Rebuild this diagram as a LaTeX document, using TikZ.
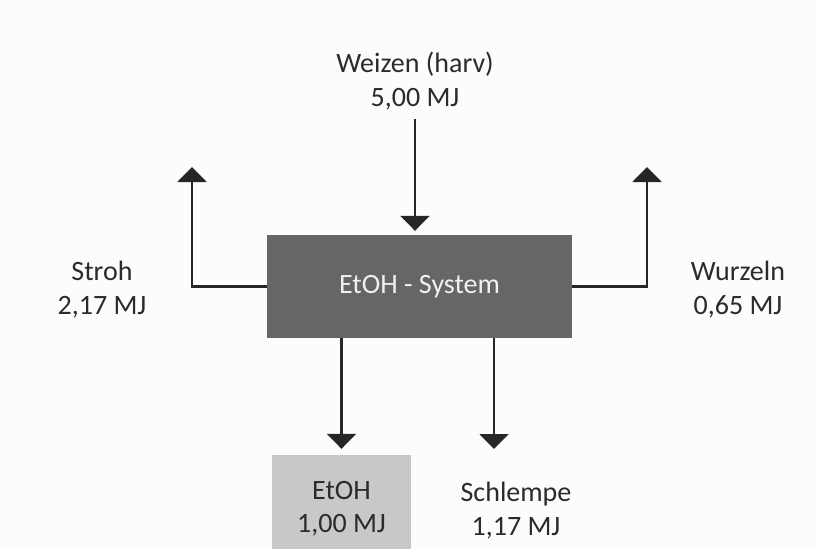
\documentclass[tikz,border=0pt]{standalone}
\usepackage{fontspec}
\setmainfont{Carlito}
\usetikzlibrary{arrows.meta}

\definecolor{bggray}{HTML}{FCFCFB}
\definecolor{sysgray}{HTML}{666666}
\definecolor{outgray}{HTML}{C8C8C8}
\definecolor{linegray}{HTML}{262626}
\definecolor{txtgray}{HTML}{2B2B2B}

\begin{document}
\begin{tikzpicture}[x=1pt, y=-1pt,
    flow/.style={draw=linegray, line width=2.2pt, -{Triangle[width=29pt,length=15pt]}},
    flowlabel/.style={align=center, text=txtgray, inner sep=0pt,
        font=\fontsize{28}{33.5}\selectfont},
    sysbox/.style={fill=sysgray, text=white!94!black, minimum width=305pt,
        minimum height=103pt, inner sep=0pt, font=\fontsize{28}{33.5}\selectfont},
    outbox/.style={fill=outgray, text=txtgray, align=center, minimum width=139pt,
        minimum height=107pt, inner sep=0pt, font=\fontsize{28}{33.5}\selectfont},
]
    % Canvas
    \clip (0,0) rectangle (817,549);
    \fill[bggray] (0,0) rectangle (817,549);

    % Boxes
    \node[sysbox] (sys) at (419.5,286.5) {EtOH - System};
    \node[outbox] (etoh) at (341.5,508.5) {EtOH\\1,00 MJ};

    % Labels
    \node[flowlabel] (weizen)   at (415,81)    {Weizen (harv)\\5,00 MJ};
    \node[flowlabel] (stroh)    at (102,289.5) {Stroh\\2,17 MJ};
    \node[flowlabel] (wurzeln)  at (738,289.5) {Wurzeln\\0,65 MJ};
    \node[flowlabel] (schlempe) at (516,510.5) {Schlempe\\1,17 MJ};

    % Ends of the flows
    \coordinate (win)     at (415,119);
    \coordinate (strohup) at (192,167);
    \coordinate (wurzup)  at (647,167);
    \coordinate (schlend) at (494,449);

    % Flows
    \draw[flow, shorten >=4pt] (win) -- (win |- sys.north);
    \draw[flow] (sys.west) -| (strohup);
    \draw[flow] (sys.east) -| (wurzup);
    \draw[flow] (etoh.north |- sys.south) -- ([yshift=6pt]etoh.north);
    \draw[flow] (schlend |- sys.south) -- (schlend);
\end{tikzpicture}
\end{document}
